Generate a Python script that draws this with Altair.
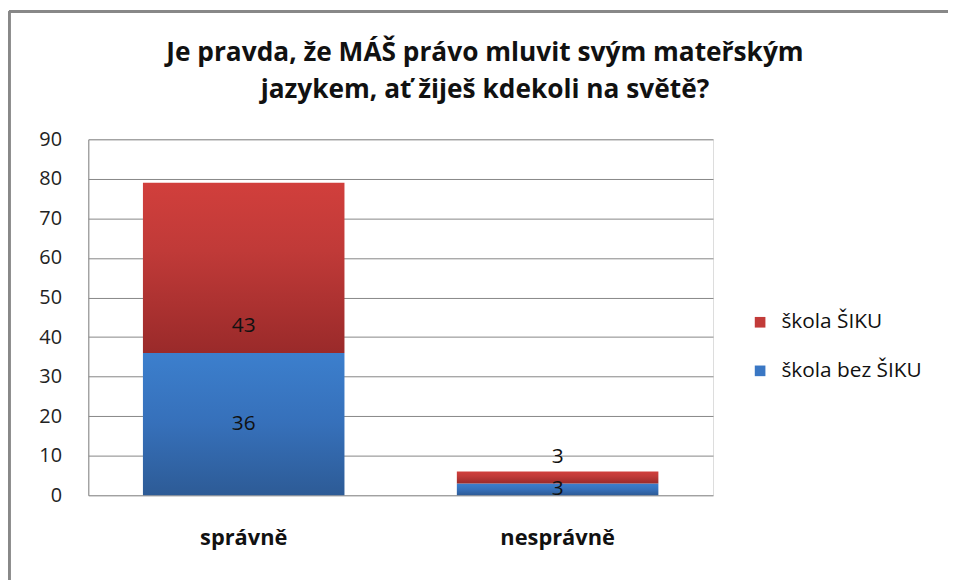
import altair as alt
import pandas as pd

categories = ["správně", "nesprávně"]
bez_siku = [36, 3]
siku = [43, 3]
series = ["škola ŠIKU", "škola bez ŠIKU"]
title_lines = ["Je pravda, že MÁŠ právo mluvit svým mateřským", "jazykem, ať žiješ kdekoli na světě?"]
y_ticks = list(range(0, 91, 10))

rows = []
for c, b, s in zip(categories, bez_siku, siku):
    rows.append({"kat": c, "serie": "škola bez ŠIKU", "v0": 0, "v1": b, "val": b})
    rows.append({"kat": c, "serie": "škola ŠIKU", "v0": b, "v1": b + s, "val": s})
df = pd.DataFrame(rows)

FONT = "Open Sans"

x = alt.X("kat:N", sort=categories, title=None,
          scale=alt.Scale(paddingInner=0.358, paddingOuter=0.174),
          axis=alt.Axis(labelFontSize=22, labelFontWeight="bold", labelColor="#111",
                        labelAngle=0, labelPadding=33, ticks=False, domain=False,
                        labelFont=FONT))
yscale = alt.Scale(domain=[0, 90], nice=False)
yaxis = alt.Axis(values=y_ticks, labelFontSize=20, labelColor="#222", labelFont=FONT,
                 labelPadding=27, ticks=False, domain=True, domainColor="#868686",
                 grid=True, gridColor="#868686", gridWidth=1, labelOverlap=False)


def yenc(field):
    return alt.Y(field, title=None, scale=yscale, axis=yaxis)


base = alt.Chart(df)

red_grad = alt.Gradient(gradient="linear", x1=0, y1=0, x2=0, y2=1,
                        stops=[alt.GradientStop(color="#D13F3C", offset=0),
                               alt.GradientStop(color="#C03A38", offset=0.4),
                               alt.GradientStop(color="#9A2A2A", offset=1)])
blue_grad = alt.Gradient(gradient="linear", x1=0, y1=0, x2=0, y2=1,
                         stops=[alt.GradientStop(color="#3C7FCD", offset=0),
                                alt.GradientStop(color="#3670BA", offset=0.5),
                                alt.GradientStop(color="#2D5B96", offset=1)])

bars_red = base.transform_filter(alt.datum.serie == "škola ŠIKU").mark_bar(
    color=red_grad).encode(x=x, y=yenc("v0:Q"), y2="v1:Q")
bars_blue = base.transform_filter(alt.datum.serie == "škola bez ŠIKU").mark_bar(
    color=blue_grad).encode(x=x, y=yenc("v0:Q"), y2="v1:Q")

legend_layer = base.mark_bar(opacity=0).encode(
    x=x, y=yenc("v0:Q"), y2="v1:Q",
    color=alt.Color("serie:N", title=None,
                    scale=alt.Scale(domain=series, range=["#C23B39", "#3A77C4"]),
                    legend=alt.Legend(orient="none", legendX=667, legendY=174,
                                      symbolType="square", symbolSize=115,
                                      symbolOpacity=1, symbolStrokeWidth=0,
                                      labelFontSize=21, labelFont=FONT, labelColor="#111",
                                      labelFontWeight=500,
                                      rowPadding=27, labelOffset=11, labelLimit=300)))

lbl_blue = base.transform_filter(alt.datum.serie == "škola bez ŠIKU").transform_calculate(
    mid="(datum.v0 + datum.v1) / 2").mark_text(
    fontSize=21, font=FONT, color="#111", baseline="middle").encode(
    x=x, y=yenc("mid:Q"), text="val:Q")
lbl_red = base.transform_filter(alt.datum.serie == "škola ŠIKU").mark_text(
    fontSize=21, font=FONT, color="#111", baseline="middle", dy=-27).encode(
    x=x, y=yenc("v0:Q"), text="val:Q")

frame_top = alt.Chart(df).mark_rule(color="#888888", strokeWidth=3).encode(
    x=alt.value(-80), x2=alt.value(900), y=alt.value(-129))
frame_left = alt.Chart(df).mark_rule(color="#888888", strokeWidth=3).encode(
    x=alt.value(-80), y=alt.value(-129), y2=alt.value(500))

chart = alt.layer(legend_layer, bars_blue, bars_red, lbl_blue, lbl_red, frame_top, frame_left).properties(
    width=630, height=359,
    title=alt.TitleParams(title_lines, fontSize=26.5, font=FONT, fontWeight="bold", color="#111",
                          lineHeight=37, anchor="middle", dx=85, offset=-94),
    autosize=alt.AutoSizeParams(type="none"),
    padding={"left": 81, "top": 130, "right": 237, "bottom": 83},
).configure_view(stroke=None).configure(background="white")

chart.save("out.html", embed_options={"renderer": "svg", "actions": False})
